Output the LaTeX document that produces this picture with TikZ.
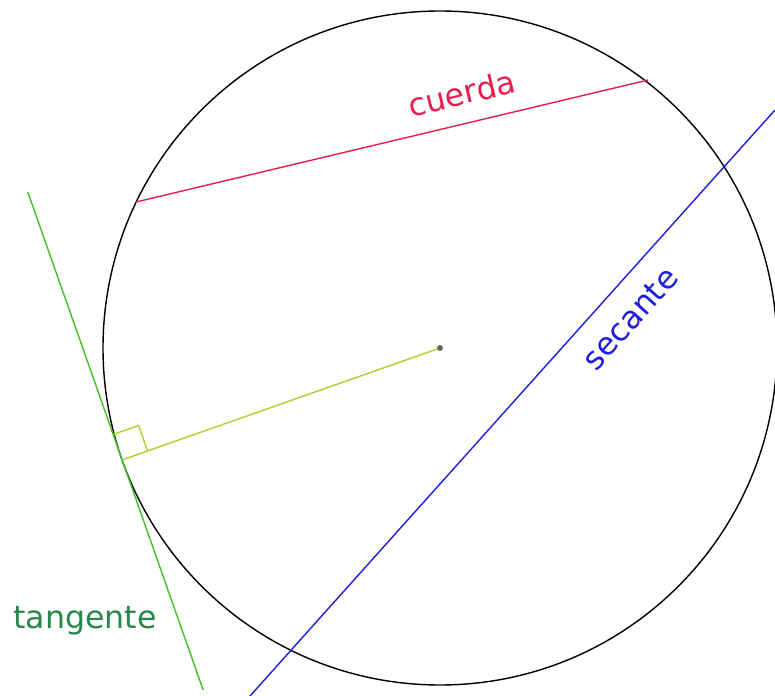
\documentclass[tikz,border=0pt]{standalone}
\usepackage{fontspec}
\setmainfont{DejaVu Sans}
\usetikzlibrary{calc}
\definecolor{rojo}{RGB}{232,30,78}
\definecolor{azul}{RGB}{30,30,225}
\definecolor{verde}{RGB}{70,190,40}
\definecolor{verdeosc}{RGB}{40,135,75}
\definecolor{oliva}{RGB}{170,210,40}

\begin{document}
\begin{tikzpicture}[
    x=0.02cm, y=-0.02cm,
    circulo/.style={draw=black, line width=0.8pt},
    linea/.style={line width=0.8pt},
    lbl/.style={font=\fontsize{18}{22}\selectfont, inner sep=0pt}
]
    \useasboundingbox (0,0) rectangle (775,696);

    % circunferencia y centro
    \coordinate (centro) at (440,348);
    \draw[circulo] (centro) circle[radius=337];

    % puntos de las rectas
    \coordinate (T) at ($(centro)+(160.6:337)$);
    \coordinate (tanA) at ($(T)+(250.6:284)$);
    \coordinate (tanB) at ($(T)+(70.6:244)$);
    \coordinate (cuerdaA) at (136,202);
    \coordinate (cuerdaB) at (648,80);
    \coordinate (secA) at (250,696);
    \coordinate (secB) at (775,110);

    % cuerda
    \draw[linea, rojo] (cuerdaA) -- node[lbl, sloped, above=10pt, pos=0.65, text=rojo] (lcuerda) {cuerda} (cuerdaB);

    % secante
    \draw[linea, azul] (secA) -- node[lbl, sloped, below=11pt, pos=0.68, text=azul] (lsecante) {secante} (secB);

    % tangente
    \draw[linea, verde] (tanA) -- (tanB);
    \node[lbl, text=verdeosc] (ltangente) at (85,621) {tangente};

    % radio y angulo recto
    \draw[linea, oliva] (T) -- (centro);
    \coordinate (sqA) at ($(T)+(250.6:27)$);
    \coordinate (sqC) at ($(T)+(-19.4:27)$);
    \coordinate (sqB) at ($(sqA)+(-19.4:27)$);
    \draw[linea, oliva] (sqA) -- (sqB) -- (sqC);
    \fill[black!60] (centro) circle[radius=3];
\end{tikzpicture}
\end{document}
